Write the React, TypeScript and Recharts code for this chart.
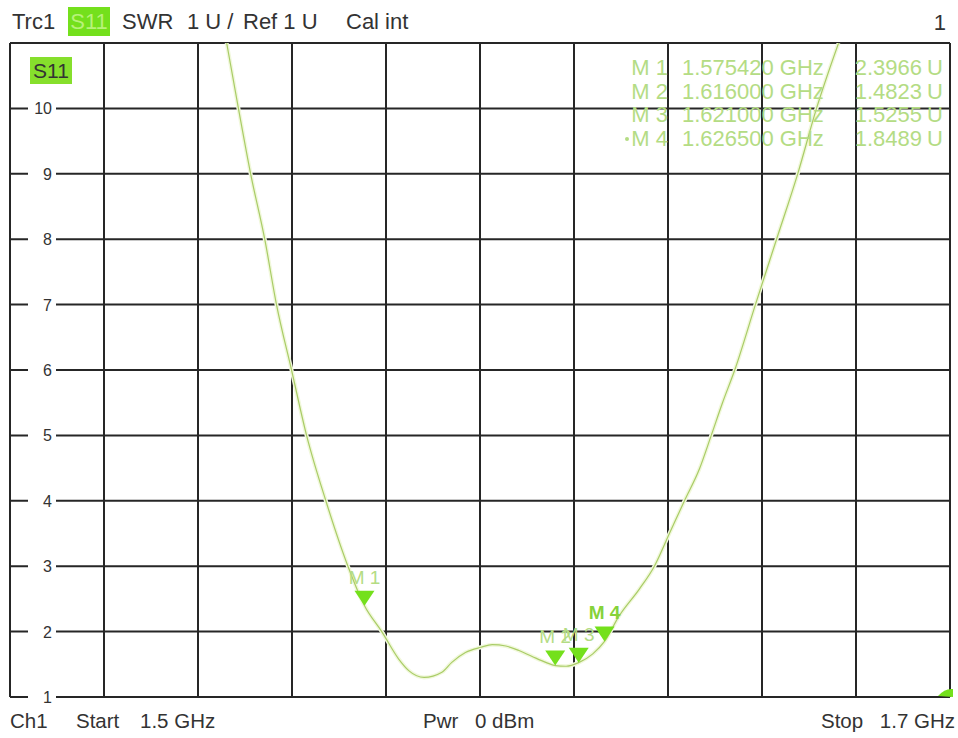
import { ComposedChart, Line, Scatter, XAxis, YAxis, CartesianGrid, ReferenceDot } from 'recharts';

// trace (GHz, SWR)
const freqs = [
    1.5461, 1.5486, 1.5512, 1.5542, 1.5567, 1.5599, 1.5631, 1.5672, 1.5719, 1.5754,
    1.5791, 1.5827, 1.5849, 1.5881, 1.5919, 1.5940, 1.5969, 1.6002, 1.6026, 1.6055,
    1.6083, 1.6111, 1.6140, 1.6160, 1.6183, 1.6210, 1.6240, 1.6265, 1.6296, 1.6339,
    1.6371, 1.6403, 1.6435, 1.6467, 1.6492, 1.6516, 1.6542, 1.6586, 1.6631, 1.6676,
    1.6716, 1.6763,
];
const swr = [
    11.0, 10.0, 9.0, 8.0, 7.0, 6.0, 5.0, 4.0, 3.0, 2.40,
    2.0, 1.58, 1.40, 1.30, 1.38, 1.53, 1.68, 1.76, 1.80, 1.78,
    1.71, 1.62, 1.53, 1.48, 1.47, 1.5255, 1.66, 1.849, 2.24, 2.65,
    3.0, 3.5, 4.0, 4.49, 5.0, 5.5, 6.0, 7.0, 8.0, 9.0,
    10.0, 11.0,
];

const markerNames = ['M 1', 'M 2', 'M 3', 'M 4'];
const markerFreqs = [1.57542, 1.616, 1.621, 1.6265];
const markerValues = [2.3966, 1.4823, 1.5255, 1.8489];
const markerFreqLabels = ['1.575420 GHz', '1.616000 GHz', '1.621000 GHz', '1.626500 GHz'];
const markerValueLabels = ['2.3966', '1.4823', '1.5255', '1.8489'];

const xTicks = [1.5, 1.52, 1.54, 1.56, 1.58, 1.6, 1.62, 1.64, 1.66, 1.68, 1.7];
const yTicks = [1, 2, 3, 4, 5, 6, 7, 8, 9, 10, 11];

const trace = freqs.map((f, i) => ({ f, swr: swr[i] }));
const markers = markerNames.map((name, i) => ({ name, f: markerFreqs[i], swr: markerValues[i], active: i === 3 }));

const FONT = '"Liberation Sans", Arial, sans-serif';
const GREEN = '#74e01c';
const PALE = '#b4dc84';

function YTick(props: any) {
    const { y, payload } = props;
    if (payload.value === 11) return null;
    return (
        <g>
            <rect x={28} y={y - 8} width={28} height={16} fill="#fff" />
            <text x={52} y={y + 6} textAnchor="end" fontSize={16} fontFamily={FONT} fill="#333">
                {payload.value}
            </text>
        </g>
    );
}

function EmptyTick() {
    return <g />;
}

function MarkerShape(props: any) {
    const { cx, cy, payload } = props;
    return (
        <g>
            <path d={`M${cx - 10},${cy - 15} L${cx + 10},${cy - 15} L${cx},${cy} Z`} fill={GREEN} />
            <text
                x={cx}
                y={cy - 22}
                textAnchor="middle"
                fontSize={19}
                fontFamily={FONT}
                fontWeight={payload.active ? 'bold' : 'normal'}
                fill={payload.active ? '#86d23a' : PALE}
            >
                {payload.name}
            </text>
        </g>
    );
}

function EdgeBlob(props: any) {
    const { cx, cy } = props;
    return <path d={`M${cx - 12},${cy - 1} Q${cx - 5},${cy - 9} ${cx + 3},${cy - 8} L${cx + 3},${cy} Z`} fill={GREEN} />;
}

export default function App() {
    return (
        <div style={{ position: 'absolute', left: 0, top: 0, width: 958, height: 738, background: '#fff', fontFamily: FONT }}>
            <ComposedChart width={958} height={738} margin={{ top: 43, right: 8, bottom: 40, left: 10 }}>
                <CartesianGrid stroke="#262626" strokeWidth={2} />
                <XAxis
                    type="number"
                    dataKey="f"
                    domain={[1.5, 1.7]}
                    ticks={xTicks}
                    height={1}
                    tick={<EmptyTick />}
                    axisLine={false}
                    tickLine={false}
                    interval={0}
                    allowDataOverflow
                />
                <YAxis
                    type="number"
                    dataKey="swr"
                    domain={[1, 11]}
                    ticks={yTicks}
                    mirror
                    interval={0}
                    axisLine={false}
                    tickLine={false}
                    tick={<YTick />}
                    allowDataOverflow
                />
                <Line data={trace} dataKey="swr" type="monotone" stroke="#f1f8dc" strokeWidth={4} dot={false} isAnimationActive={false} />
                <Line data={trace} dataKey="swr" type="monotone" stroke="#a9cc66" strokeWidth={1.2} dot={false} isAnimationActive={false} />
                <Scatter data={markers} dataKey="swr" shape={<MarkerShape />} isAnimationActive={false} />
                <ReferenceDot x={1.7} y={1} ifOverflow="visible" shape={<EdgeBlob />} />
            </ComposedChart>

            <svg width={958} height={738} style={{ position: 'absolute', left: 0, top: 0, pointerEvents: 'none' }}>
                <g fontFamily={FONT} fontSize={22} fill="#333">
                    <text x={12} y={29}>Trc1</text>
                    <rect x={68} y={7} width={42} height={29} fill={GREEN} />
                    <text x={89} y={29} textAnchor="middle" fill="#b8f27a">S11</text>
                    <text x={122} y={29}>SWR</text>
                    <text x={187} y={29}>1 U /</text>
                    <text x={243} y={29}>Ref 1 U</text>
                    <text x={346} y={29}>Cal int</text>
                    <text x={946} y={30} textAnchor="end">1</text>
                </g>

                <g fontFamily={FONT} fontSize={20.5} fill="#333">
                    <text x={10} y={728}>Ch1</text>
                    <text x={76} y={728}>Start</text>
                    <text x={140} y={728}>1.5 GHz</text>
                    <text x={423} y={728}>Pwr</text>
                    <text x={475} y={728}>0 dBm</text>
                    <text x={821} y={728}>Stop</text>
                    <text x={955} y={728} textAnchor="end">1.7 GHz</text>
                </g>

                <rect x={30} y={57} width={42} height={27} fill="#86df2c" />
                <text x={51} y={78} textAnchor="middle" fontFamily={FONT} fontSize={21} fill="#333">S11</text>

                <g fontFamily={FONT} fontSize={22} fill={PALE}>
                    {markerNames.map((name, i) => (
                        <g key={name}>
                            {i === 3 && <circle cx={627} cy={139} r={2} fill={PALE} />}
                            <text x={668} y={75 + i * 23.5} textAnchor="end">{name}</text>
                            <text x={682} y={75 + i * 23.5}>{markerFreqLabels[i]}</text>
                            <text x={922} y={75 + i * 23.5} textAnchor="end">{markerValueLabels[i]}</text>
                            <text x={943} y={75 + i * 23.5} textAnchor="end">U</text>
                        </g>
                    ))}
                </g>
            </svg>
        </div>
    );
}
